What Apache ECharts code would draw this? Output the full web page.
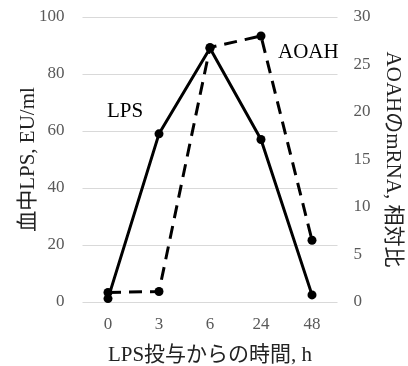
<!DOCTYPE html>
<html><head><meta charset="utf-8">
<script src="https://cdn.jsdelivr.net/npm/echarts@6/dist/echarts.min.js"></script>
<style>html,body{margin:0;padding:0;background:#fff}#c{width:408px;height:366px}</style>
</head><body><div id="c"></div>
<script>
const categories = ['0','3','6','24','48'];
const lpsValues = [1.2, 59, 89, 57, 2.5];
const aoahValues = [1, 1.1, 26.8, 28, 6.5];
const leftTicks = [0,20,40,60,80,100];
const rightTicks = [0,5,10,15,20,25,30];
const FONT = '"Liberation Serif", "Noto Sans CJK JP", serif';
const chart = echarts.init(document.getElementById('c'));
chart.setOption({
  animation:false,
  backgroundColor:'#fff',
  grid:{left:82.5,right:70.5,top:17,bottom:64,containLabel:false,outerBoundsMode:'none'},
  xAxis:{type:'category',data:categories,boundaryGap:true,
    axisLine:{show:false},axisTick:{show:false},
    axisLabel:{color:'#595959',fontFamily:FONT,fontSize:17,margin:14},
    name:'LPS投与からの時間, h',nameLocation:'middle',nameGap:43,
    nameTextStyle:{color:'#222',fontFamily:FONT,fontSize:21}},
  yAxis:[
    {type:'value',min:0,max:100,interval:20,
     axisLine:{show:false},axisTick:{show:false},
     splitLine:{lineStyle:{color:'#d9d9d9',width:1}},
     axisLabel:{color:'#595959',fontFamily:FONT,fontSize:17,margin:18},
     name:'血中LPS, EU/ml',nameLocation:'middle',nameGap:44,nameRotate:90,
     nameMoveOverlap:false,
     nameTextStyle:{color:'#222',fontFamily:FONT,fontSize:21}},
    {type:'value',min:0,max:30,interval:5,position:'right',
     axisLine:{show:false},axisTick:{show:false},splitLine:{show:false},
     axisLabel:{color:'#595959',fontFamily:FONT,fontSize:17,margin:16},
     name:'AOAHのmRNA, 相対比',nameLocation:'middle',nameGap:45,nameRotate:-90,
     nameTextStyle:{color:'#222',fontFamily:FONT,fontSize:21}}
  ],
  series:[
    {name:'LPS',type:'line',data:lpsValues,yAxisIndex:0,
     lineStyle:{color:'#000',width:3},itemStyle:{color:'#000'},
     symbol:'circle',symbolSize:9},
    {name:'AOAH',type:'line',data:aoahValues,yAxisIndex:1,
     lineStyle:{color:'#000',width:3,type:[13,8]},itemStyle:{color:'#000'},
     symbol:'circle',symbolSize:9}
  ],
  graphic:[
    {type:'text',left:107,top:101,style:{text:'LPS',fill:'#000',font:'21px '+FONT}},
    {type:'text',left:278,top:42,style:{text:'AOAH',fill:'#000',font:'21px '+FONT}}
  ]
});
</script></body></html>
